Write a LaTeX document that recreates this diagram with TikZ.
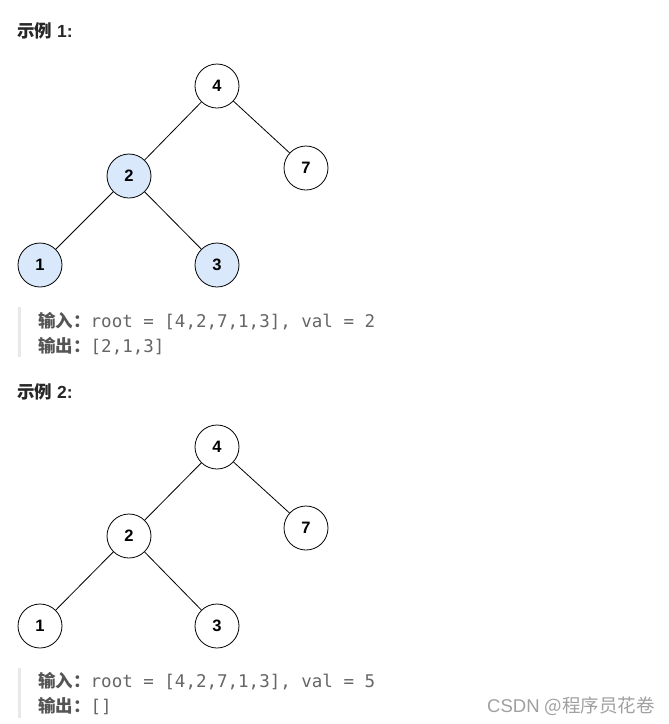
\documentclass[tikz,border=0pt]{standalone}
\usepackage{fontspec}
\setmainfont{Liberation Sans}
\setmonofont{DejaVu Sans Mono}
\newfontfamily\cjk{Noto Sans CJK SC}
\usetikzlibrary{positioning}
\definecolor{azulnodo}{HTML}{DAE8FC}
\definecolor{grisbarra}{HTML}{E8E8E8}
\definecolor{gristexto}{HTML}{666666}
\definecolor{grisetiq}{HTML}{555555}
\definecolor{grismarca}{HTML}{A0A0A0}

\begin{document}
\begin{tikzpicture}[
    x=1pt,
    y=-1pt,
    nodo/.style={draw,circle,thick,minimum size=44pt,inner sep=0pt,
        font=\fontsize{16.5}{16.5}\selectfont\bfseries},
    marcado/.style={nodo,fill=azulnodo},
    arista/.style={thick},
    titulo/.style={anchor=base west,inner sep=0pt,
        font=\fontsize{17.5}{17.5}\selectfont\bfseries,text=black!85},
    salida/.style={anchor=base west,inner sep=0pt,
        font=\fontsize{17.5}{17.5}\ttfamily,text=gristexto},
    barra/.style={grisbarra,line width=3pt}
]
    \useasboundingbox[fill=white] (0,0) rectangle (669,724);

    % Ejemplo 1
    \node[titulo] (t1) at (17,37) {{\cjk 示例} 1:};
    \node[nodo] (a4) at (217,86) {4};
    \node[nodo] (a7) at (306,168) {7};
    \node[marcado] (a2) at (129,176) {2};
    \node[marcado] (a1) at (40,265) {1};
    \node[marcado] (a3) at (217,265) {3};
    \draw[arista] (a4) -- (a2);
    \draw[arista] (a4) -- (a7);
    \draw[arista] (a2) -- (a1);
    \draw[arista] (a2) -- (a3);
    \draw[barra] (19.5,307) -- (19.5,357);
    \node[salida] (e1) at (38,327)
        {{\cjk\bfseries\color{grisetiq}输入：}root = [4,2,7,1,3], val = 2};
    \node[salida] (s1) at (38,352)
        {{\cjk\bfseries\color{grisetiq}输出：}[2,1,3]};

    % Ejemplo 2
    \node[titulo] (t2) at (17,398) {{\cjk 示例} 2:};
    \node[nodo] (b4) at (217,447) {4};
    \node[nodo] (b7) at (306,528) {7};
    \node[nodo] (b2) at (129,536) {2};
    \node[nodo] (b1) at (40,626) {1};
    \node[nodo] (b3) at (217,626) {3};
    \draw[arista] (b4) -- (b2);
    \draw[arista] (b4) -- (b7);
    \draw[arista] (b2) -- (b1);
    \draw[arista] (b2) -- (b3);
    \draw[barra] (19.5,668) -- (19.5,718);
    \node[salida] (e2) at (38,687)
        {{\cjk\bfseries\color{grisetiq}输入：}root = [4,2,7,1,3], val = 5};
    \node[salida] (s2) at (38,712)
        {{\cjk\bfseries\color{grisetiq}输出：}[]};

    \node[anchor=base east,inner sep=0pt,text=grismarca,
        font=\fontsize{18.5}{18.5}\selectfont] (marca) at (655,712)
        {CSDN {\cjk @程序员花卷}};
\end{tikzpicture}
\end{document}
